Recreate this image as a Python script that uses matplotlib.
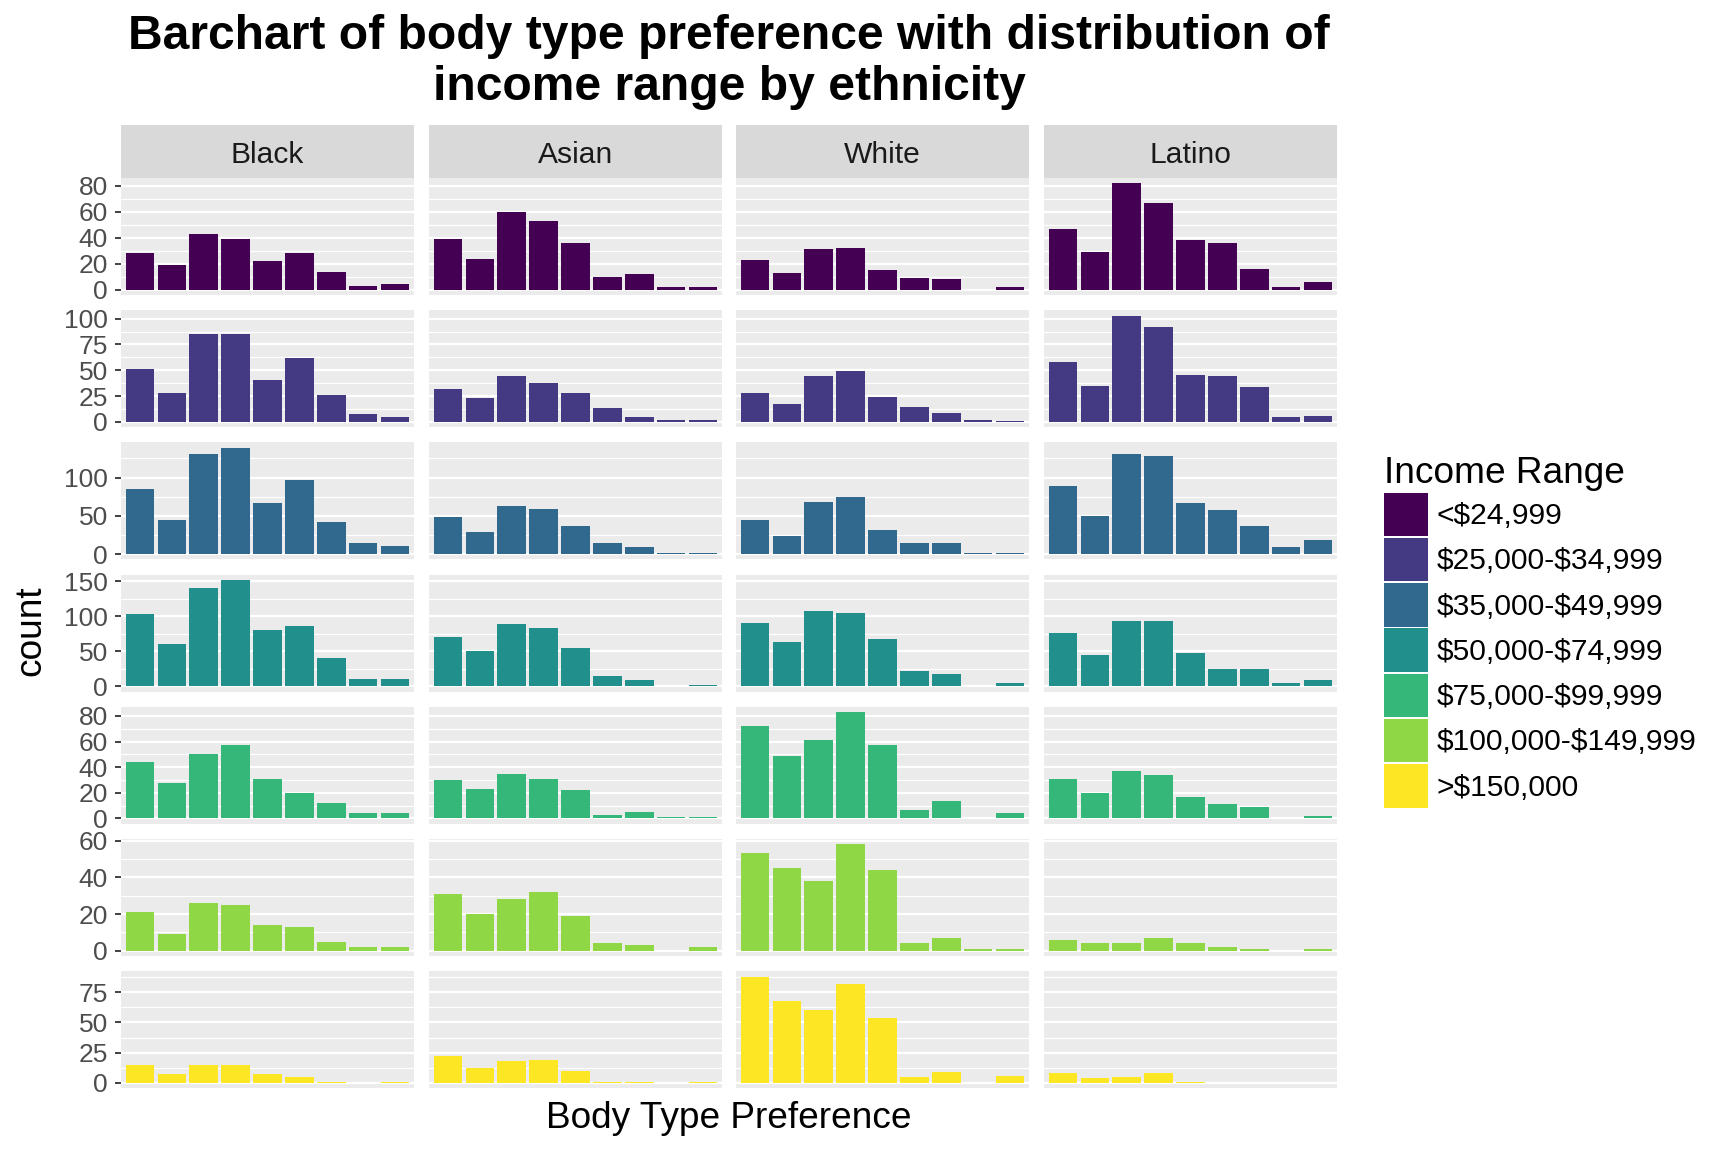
import numpy as np
import matplotlib
matplotlib.use("Agg")
import matplotlib.pyplot as plt
from matplotlib.patches import Patch

plt.rcParams['font.family'] = ['Liberation Sans', 'DejaVu Sans']
plt.rcParams['text.parse_math'] = False  # labels contain "$"

# ---- data (counts) ----
ethnicities = ["Black", "Asian", "White", "Latino"]
income_ranges = ["<$24,999", "$25,000-$34,999", "$35,000-$49,999", "$50,000-$74,999",
                 "$75,000-$99,999", "$100,000-$149,999", ">$150,000"]
income_colors = ["#440154", "#443A83", "#31688E", "#21908C", "#35B779", "#8FD744", "#FDE725"]

# one row per income range, 9 body types each
black = [[28, 19, 43, 39, 22, 28, 14, 3, 4],
         [51, 28, 85, 85, 41, 62, 26, 8, 5],
         [85, 45, 131, 139, 67, 97, 42, 14, 10],
         [103, 60, 141, 152, 80, 86, 41, 11, 11],
         [44, 28, 50, 57, 31, 20, 12, 4, 4],
         [21, 9, 26, 25, 14, 13, 5, 2, 2],
         [15, 7, 15, 15, 7, 5, 1, 0, 1]]
asian = [[39, 24, 60, 53, 36, 10, 12, 2, 2],
         [32, 23, 44, 38, 28, 13, 5, 2, 2],
         [49, 29, 63, 59, 37, 14, 9, 1, 1],
         [71, 50, 89, 84, 54, 15, 9, 1, 2],
         [30, 23, 35, 31, 22, 3, 5, 1, 1],
         [31, 20, 28, 32, 19, 4, 3, 0, 2],
         [22, 12, 18, 19, 10, 1, 1, 0, 1]]
white = [[23, 13, 31, 32, 15, 9, 8, 0, 2],
         [28, 17, 44, 49, 24, 14, 9, 2, 1],
         [45, 23, 68, 74, 32, 15, 14, 2, 2],
         [90, 63, 108, 105, 68, 22, 18, 0, 5],
         [72, 49, 61, 83, 57, 7, 14, 0, 4],
         [53, 45, 38, 58, 44, 4, 7, 1, 1],
         [88, 68, 60, 82, 54, 5, 9, 0, 6]]
latino = [[47, 29, 82, 67, 38, 36, 16, 2, 6],
          [58, 35, 103, 92, 45, 44, 34, 5, 6],
          [89, 50, 131, 128, 67, 58, 37, 9, 18],
          [76, 44, 93, 93, 48, 25, 25, 5, 9],
          [31, 20, 37, 34, 17, 11, 9, 0, 2],
          [6, 4, 4, 7, 4, 2, 1, 0, 1],
          [8, 4, 5, 8, 1, 0, 0, 0, 0]]
counts = [black, asian, white, latino]

row_breaks = [[0, 20, 40, 60, 80],
              [0, 25, 50, 75, 100],
              [0, 50, 100],
              [0, 50, 100, 150],
              [0, 20, 40, 60, 80],
              [0, 20, 40, 60],
              [0, 25, 50, 75]]

# ---- layout in pixels ----
W, H = 1728, 1152
fig = plt.figure(figsize=(12, 8), dpi=144)

def rect(l, t, w, h):
    return [l / W, 1 - (t + h) / H, w / W, h / H]

col_left = [121, 429, 736, 1044]
panel_w = 293
row_top0, row_pitch, panel_h = 178, 132.2, 117
strip_top, strip_h = 125, 53

for r in range(7):
    ymax = max(max(c[r]) for c in counts)
    lo, hi = -0.05 * ymax, 1.05 * ymax
    br = row_breaks[r]
    step = br[1] - br[0]
    minor = np.arange(br[0] - step / 2, hi + step, step)
    minor = minor[(minor > lo) & (minor < hi)]
    for c in range(4):
        ax = fig.add_axes(rect(col_left[c], row_top0 + r * row_pitch, panel_w, panel_h))
        ax.set_facecolor("#EBEBEB")
        vals = counts[c][r]
        x = np.arange(len(vals))
        for m in minor:
            ax.axhline(m, color="white", lw=0.6, zorder=0)
        for b in br:
            ax.axhline(b, color="white", lw=1.1, zorder=0)
        ax.bar(x, vals, width=0.9, color=income_colors[r], zorder=2)
        ax.set_xlim(-0.6, len(vals) - 0.4)
        ax.set_ylim(lo, hi)
        ax.set_xticks([])
        ax.set_yticks(br)
        for s in ax.spines.values():
            s.set_visible(False)
        if c == 0:
            ax.tick_params(axis="y", length=3, width=0.9, color="#333333",
                           labelsize=13.2, labelcolor="#4D4D4D", pad=3.5)
        else:
            ax.tick_params(axis="y", length=0, labelleft=False)

# facet strips
for c in range(4):
    sax = fig.add_axes(rect(col_left[c], strip_top, panel_w, strip_h))
    sax.set_facecolor("#D9D9D9")
    sax.set_xticks([])
    sax.set_yticks([])
    for s in sax.spines.values():
        s.set_visible(False)
    sax.text(0.5, 0.44, ethnicities[c], ha="center", va="center",
             fontsize=15, color="#1A1A1A", transform=sax.transAxes)

# titles
cx = (col_left[0] + col_left[-1] + panel_w) / 2 / W
fig.text(cx, 1 - 62 / H,
         "Barchart of body type preference with distribution of\nincome range by ethnicity",
         ha="center", va="center", fontsize=24, fontweight="bold", linespacing=1.18)
fig.text(cx, 1 - 1118 / H, "Body Type Preference", ha="center", va="center", fontsize=18.5)
fig.text(31 / W, 1 - 631 / H, "count", ha="center", va="center", fontsize=18.5, rotation=90)

# legend
handles = [Patch(facecolor=col, edgecolor="none") for col in income_colors]
leg = fig.legend(handles, income_ranges, loc="upper left",
                 bbox_to_anchor=(1372 / W, 1 - 444 / H), frameon=False,
                 title="Income Range", title_fontsize=18.5, fontsize=15,
                 handlelength=1.45, handleheight=1.85, labelspacing=0.06,
                 handletextpad=0.3, borderaxespad=0, alignment="left")

fig.savefig("out.png", dpi=144)
